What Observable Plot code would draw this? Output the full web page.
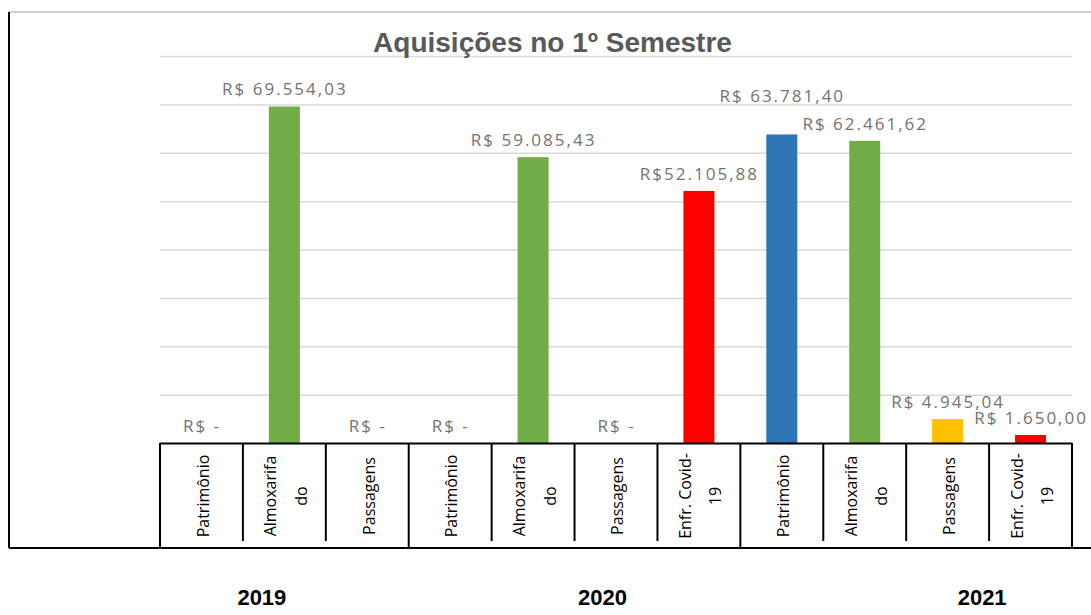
<!DOCTYPE html>
<html>
<head>
<meta charset="utf-8">
<script src="https://cdn.jsdelivr.net/npm/d3@7"></script>
<script src="https://cdn.jsdelivr.net/npm/@observablehq/plot@0.6"></script>
<style>
  html, body { margin: 0; padding: 0; background: #ffffff; }
  #chart svg { display: block; }
</style>
</head>
<body>
<div id="chart"></div>
<script>
// ---- Data ----
const years = ["2019", "2019", "2019", "2020", "2020", "2020", "2020", "2021", "2021", "2021", "2021"];
const categories = ["Patrimônio", "Almoxarifado", "Passagens", "Patrimônio", "Almoxarifado", "Passagens", "Enfr. Covid-19", "Patrimônio", "Almoxarifado", "Passagens", "Enfr. Covid-19"];
const tickLabels = ["Patrimônio", "Almoxarifa\ndo", "Passagens", "Patrimônio", "Almoxarifa\ndo", "Passagens", "Enfr. Covid-\n19", "Patrimônio", "Almoxarifa\ndo", "Passagens", "Enfr. Covid-\n19"];
const values = [0, 69554.03, 0, 0, 59085.43, 0, 52105.88, 63781.40, 62461.62, 4945.04, 1650.00];
const valueLabels = ["R$ -", "R$ 69.554,03", "R$ -", "R$ -", "R$ 59.085,43", "R$ -", "R$52.105,88", "R$ 63.781,40", "R$ 62.461,62", "R$ 4.945,04", "R$ 1.650,00"];
const yearLabels = ["2019", "2020", "2021"];
const yTicks = [10000, 20000, 30000, 40000, 50000, 60000, 70000, 80000];
const title = "Aquisições no 1º Semestre";

const categoryOrder = ["Patrimônio", "Almoxarifado", "Passagens", "Enfr. Covid-19"];
const categoryColors = ["#2e75b6", "#70ad47", "#ffc000", "#ff0000"];

// ---- Table for Plot ----
const data = values.map((v, i) => ({
  i,
  key: years[i] + "|" + i,
  year: years[i],
  category: categories[i],
  tick: tickLabels[i],
  value: v,
  label: valueLabels[i]
}));
const keys = data.map(d => d.key);

const W = 1091, H = 615;
const mL = 160, mR = 19, mT = 56, mB = 172;
const bw = (W - mL - mR) / keys.length;
const barInset = (bw - 31) / 2;

const valueFont = "'Open Sans', 'Noto Sans', sans-serif";
const catFont = "'Open Sans', 'Noto Sans', sans-serif";
const boldFont = "'Liberation Sans', Arial, sans-serif";

// year label anchor: band + offset (the original placed them off-centre)
const yearAnchor = [
  {year: yearLabels[0], key: keys[1], dx: -23},
  {year: yearLabels[1], key: keys[5], dx: -14},
  {year: yearLabels[2], key: keys[9], dx: 34}
];

const plot = Plot.plot({
  width: W,
  height: H,
  marginLeft: mL,
  marginRight: mR,
  marginTop: mT,
  marginBottom: mB,
  style: {background: "#ffffff", overflow: "visible"},
  x: {type: "band", domain: keys, padding: 0, round: false, axis: null},
  y: {domain: [0, 80000], axis: null},
  color: {domain: categoryOrder, range: categoryColors},
  marks: [
    Plot.gridY(yTicks, {stroke: "#d9d9d9", strokeOpacity: 1, strokeWidth: 1.5}),
    Plot.barY(data.filter(d => d.value > 0), {
      x: "key", y: "value", fill: "category",
      insetLeft: barInset, insetRight: barInset
    }),
    Plot.text(data.filter(d => d.i !== 7), {
      x: "key", y: "value", text: "label", dy: -17,
      fontFamily: valueFont, fontSize: 17, fill: "#737373"
    }),
    Plot.text(data.filter(d => d.i === 7), {
      x: "key", y: "value", text: "label", dy: -38,
      fontFamily: valueFont, fontSize: 17, fill: "#737373"
    }),
    Plot.ruleY([0], {stroke: "#000000", strokeWidth: 2}),
    Plot.text(data, {
      x: "key", text: "tick", frameAnchor: "bottom", dy: 52.5, dx: -3,
      rotate: -90, lineAnchor: "middle", lineHeight: 1.9,
      fontFamily: catFont, fontSize: 16, fill: "#000000"
    }),
    ...yearAnchor.map(a => Plot.text([a], {
      x: "key", text: "year", frameAnchor: "bottom", dy: 161, dx: a.dx,
      fontFamily: boldFont, fontWeight: "bold", fontSize: 22, fill: "#000000"
    })),
    Plot.text([title], {
      frameAnchor: "top", dx: -64, dy: -24,
      fontFamily: boldFont, fontWeight: "bold", fontSize: 28, fill: "#595959"
    })
  ]
});

document.getElementById("chart").appendChild(plot);

const svg = d3.select(plot);

// wider spacing of the value labels, as in the original
svg.selectAll("text").filter(function () { return this.textContent.startsWith("R$"); })
  .style("letter-spacing", "2px");

// ---- Frame and category table lines, from the plot's own x scale ----
const xs = plot.scale("x");
const xOf = k => (xs.apply ? xs.apply(k) : xs.range[0] + keys.indexOf(k) * xs.step);
const band = xs.bandwidth;
const tableTop = H - mB;
const tableBottom = 548;
const g = svg.append("g").attr("fill", "none");

// outer chart frame
g.append("line").attr("x1", 9).attr("x2", W).attr("y1", 12).attr("y2", 12)
  .attr("stroke", "#bfbfbf").attr("stroke-width", 1.5);
g.append("line").attr("x1", 9).attr("x2", 9).attr("y1", 12).attr("y2", tableBottom)
  .attr("stroke", "#000000").attr("stroke-width", 2);
g.append("line").attr("x1", 9).attr("x2", W).attr("y1", tableBottom).attr("y2", tableBottom)
  .attr("stroke", "#000000").attr("stroke-width", 2);

// dividers
keys.forEach((k, idx) => {
  const left = xOf(k);
  const isGroupStart = idx === 0 || data[idx].year !== data[idx - 1].year;
  g.append("line").attr("x1", left).attr("x2", left)
    .attr("y1", tableTop).attr("y2", isGroupStart ? tableBottom : tableBottom - 7)
    .attr("stroke", "#000000").attr("stroke-width", 2);
});
const rightEdge = xOf(keys[keys.length - 1]) + band;
g.append("line").attr("x1", rightEdge).attr("x2", rightEdge)
  .attr("y1", tableTop).attr("y2", tableBottom)
  .attr("stroke", "#000000").attr("stroke-width", 2);
</script>
</body>
</html>
